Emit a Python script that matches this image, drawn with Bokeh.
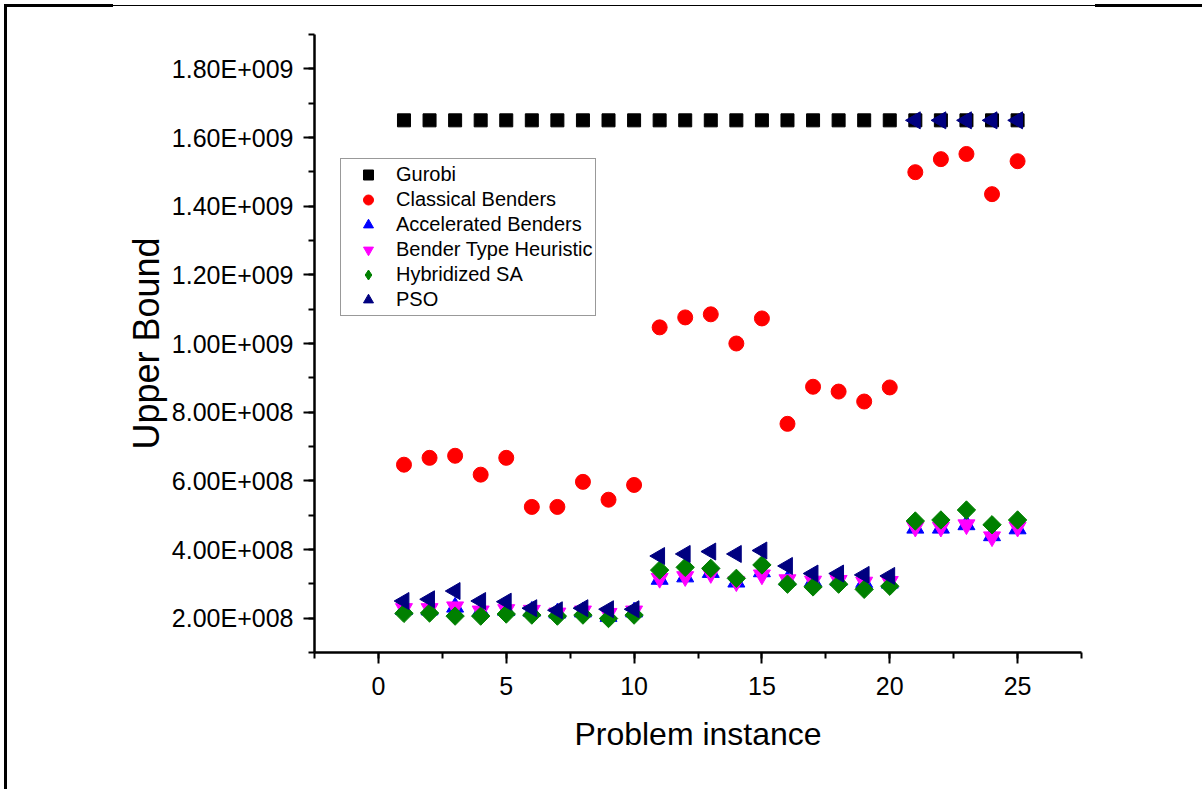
import math
from bokeh.plotting import figure
from bokeh.models import Range1d, SingleIntervalTicker, Legend, LegendItem
from bokeh.embed import file_html
from bokeh.resources import INLINE

instances = list(range(1, 26))

gurobi = [1.65e9] * 25
classical = [6.47e8, 6.67e8, 6.73e8, 6.18e8, 6.67e8, 5.24e8, 5.24e8, 5.97e8, 5.45e8, 5.88e8,
             1.047e9, 1.076e9, 1.085e9, 1.0e9, 1.073e9, 7.66e8, 8.74e8, 8.6e8, 8.31e8, 8.72e8,
             1.499e9, 1.537e9, 1.552e9, 1.435e9, 1.531e9]
accelerated = [2.25e8, 2.24e8, 2.32e8, 2.20e8, 2.22e8, 2.20e8, 2.15e8, 2.18e8, 2.05e8, 2.18e8,
               3.13e8, 3.20e8, 3.33e8, 3.05e8, 3.35e8, 3.10e8, 3.08e8, 3.10e8, 3.04e8, 3.02e8,
               4.62e8, 4.62e8, 4.72e8, 4.40e8, 4.60e8]
heuristic = [2.28e8, 2.28e8, 2.33e8, 2.21e8, 2.25e8, 2.23e8, 2.15e8, 2.21e8, 2.14e8, 2.21e8,
             3.16e8, 3.21e8, 3.30e8, 3.06e8, 3.26e8, 3.12e8, 3.08e8, 3.10e8, 3.05e8, 3.07e8,
             4.65e8, 4.65e8, 4.72e8, 4.37e8, 4.65e8]
hybrid_sa = [2.14e8, 2.15e8, 2.06e8, 2.06e8, 2.12e8, 2.09e8, 2.06e8, 2.09e8, 1.99e8, 2.09e8,
             3.40e8, 3.48e8, 3.45e8, 3.16e8, 3.55e8, 2.99e8, 2.91e8, 2.99e8, 2.84e8, 2.93e8,
             4.83e8, 4.86e8, 5.15e8, 4.72e8, 4.86e8]
pso = [2.50e8, 2.55e8, 2.79e8, 2.50e8, 2.48e8, 2.29e8, 2.23e8, 2.29e8, 2.26e8, 2.26e8,
       3.81e8, 3.87e8, 3.94e8, 3.87e8, 3.97e8, 3.52e8, 3.30e8, 3.30e8, 3.26e8, 3.23e8,
       1.65e9, 1.65e9, 1.65e9, 1.65e9, 1.65e9]

y_tick_values = [2e8, 4e8, 6e8, 8e8, 1e9, 1.2e9, 1.4e9, 1.6e9, 1.8e9]
y_tick_labels = ["2.00E+008", "4.00E+008", "6.00E+008", "8.00E+008", "1.00E+009",
                 "1.20E+009", "1.40E+009", "1.60E+009", "1.80E+009"]

FONT = "Liberation Sans"
W, H = 1202, 789

page_frame = ("linear-gradient(#000,#000) 4px 4px/109px 3px no-repeat, "
              "linear-gradient(#000,#000) 113px 5px/982px 1px no-repeat, "
              "linear-gradient(#000,#000) 1095px 4px/107px 3px no-repeat, "
              "linear-gradient(#000,#000) 4px 4px/3px 785px no-repeat, #ffffff")

p = figure(width=W, height=H, output_backend="svg", toolbar_location=None,
           x_range=Range1d(-2.5, 27.5), y_range=Range1d(1e8, 1.9e9),
           min_border_left=314, min_border_right=W - 1081,
           min_border_top=34, min_border_bottom=H - 652,
           styles={"background": page_frame})
p.outline_line_color = None
p.xgrid.visible = False
p.ygrid.visible = False
p.background_fill_color = "white"
p.border_fill_color = None

r_gur = p.scatter(instances, gurobi, marker="square", size=13, color="black")
r_cls = p.scatter(instances, classical, marker="circle", size=15, color="#FF0000")
r_acc = p.scatter(instances, accelerated, marker="triangle", size=17, color="#0000FF")
r_heu = p.scatter(instances, heuristic, marker="inverted_triangle", size=17, color="#FF00FF")
r_hsa = p.scatter(instances, hybrid_sa, marker="square", angle=math.pi / 4, size=13, color="#008000")
r_pso = p.scatter(instances, pso, marker="triangle", angle=math.pi / 2, size=17, color="#000080")

# legend-only key for the diamond symbol (legend ignores marker angle); NaN -> nothing drawn in plot
nan = float("nan")
r_hsa_key = p.scatter([nan], [nan], marker="diamond", size=13, color="#008000")

# axes
for ax in (p.xaxis[0], p.yaxis[0]):
    ax.axis_line_width = 2.5
    ax.axis_line_color = "black"
    ax.major_tick_line_width = 2
    ax.minor_tick_line_width = 2
    ax.major_tick_in = 0
    ax.major_tick_out = 11
    ax.minor_tick_in = 0
    ax.minor_tick_out = 6
    ax.major_label_text_font = FONT
    ax.major_label_text_font_size = "25px"
    ax.major_label_text_color = "black"
    ax.axis_label_text_font = FONT
    ax.axis_label_text_font_style = "normal"
    ax.axis_label_text_color = "black"

p.xaxis.ticker = SingleIntervalTicker(interval=5, num_minor_ticks=2)
p.xaxis.axis_label = "Problem instance"
p.xaxis.axis_label_text_font_size = "32px"
p.xaxis.major_label_standoff = 13
p.xaxis.axis_label_standoff = 18

p.yaxis.ticker = SingleIntervalTicker(interval=2e8, num_minor_ticks=2)
p.yaxis.major_label_overrides = {v: t for v, t in zip(y_tick_values, y_tick_labels)}
p.yaxis.axis_label = "Upper Bound"
p.yaxis.axis_label_text_font_size = "36px"
p.yaxis.major_label_standoff = 10
p.yaxis.axis_label_standoff = 2

# legend
legend = Legend(items=[
    LegendItem(label="Gurobi", renderers=[r_gur]),
    LegendItem(label="Classical Benders", renderers=[r_cls]),
    LegendItem(label="Accelerated Benders", renderers=[r_acc]),
    LegendItem(label="Bender Type Heuristic", renderers=[r_heu]),
    LegendItem(label="Hybridized SA", renderers=[r_hsa_key]),
    LegendItem(label="PSO", renderers=[r_pso]),
])
legend.location = (26, 336)
legend.label_text_font = FONT
legend.label_text_font_size = "20px"
legend.label_text_color = "black"
legend.border_line_color = "#333333"
legend.border_line_width = 1
legend.padding = 3
legend.margin = 0
legend.spacing = 0
legend.label_height = 25
legend.glyph_height = 25
legend.glyph_width = 48
legend.label_standoff = 4
legend.background_fill_alpha = 1.0
p.add_layout(legend, "center")

open("out.html", "w").write(file_html(p, INLINE))
